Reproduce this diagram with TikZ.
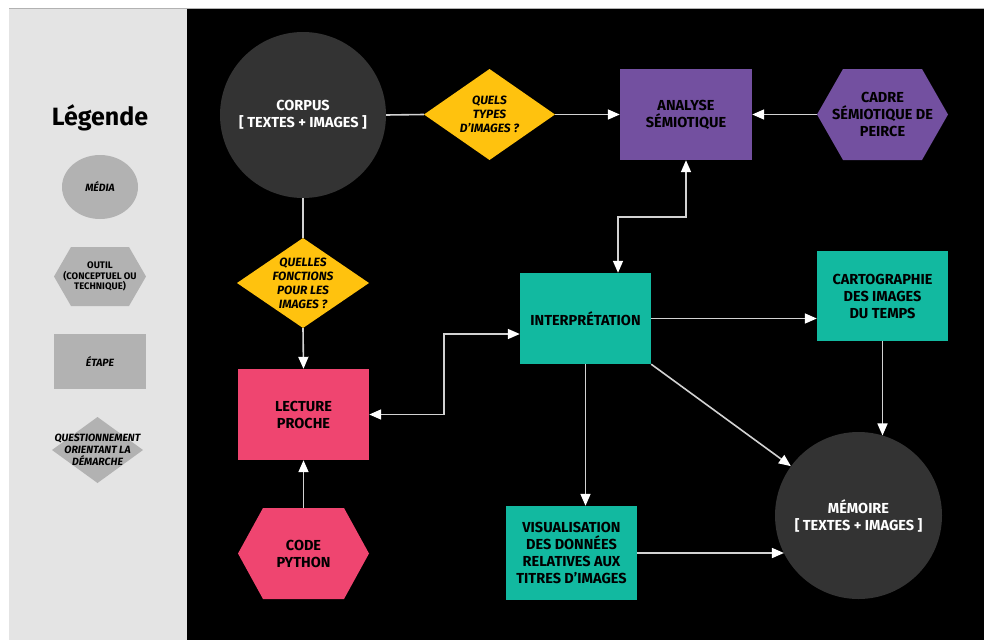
\documentclass[tikz,border=0pt]{standalone}
\usepackage{fontspec}
\setmainfont{Fira Sans}
\usetikzlibrary{arrows.meta,shapes.geometric}

\definecolor{panelgrey}{HTML}{E4E4E4}
\definecolor{keygrey}{HTML}{B2B2B2}
\definecolor{diskgrey}{HTML}{333333}
\definecolor{askyellow}{HTML}{FFC20E}
\definecolor{semviolet}{HTML}{7350A0}
\definecolor{steppink}{HTML}{EF4570}
\definecolor{stepteal}{HTML}{12B9A0}
\definecolor{wiregrey}{HTML}{D2D2D2}

\tikzset{
  x=1pt, y=-1pt,
  every node/.style={inner sep=0pt, align=center},
  bodytext/.style={font=\bfseries\fontsize{14.5}{17}\selectfont},
  asktext/.style={font=\bfseries\itshape\fontsize{12}{14}\selectfont},
  keytext/.style={font=\bfseries\fontsize{9.5}{10.5}\selectfont},
  keyask/.style={font=\bfseries\itshape\fontsize{10.5}{12}\selectfont},
  disk/.style={circle, fill=diskgrey, minimum size=#1, text=white, bodytext},
  stepbox/.style n args={3}{rectangle, fill=#1, minimum width=#2, minimum height=#3},
  hexbox/.style n args={4}{rectangle, minimum width=#2, minimum height=#3,
    path picture={\fill[#1] (path picture bounding box.west)
      -- ([xshift=#4]path picture bounding box.north west)
      -- ([xshift=-#4]path picture bounding box.north east)
      -- (path picture bounding box.east)
      -- ([xshift=-#4]path picture bounding box.south east)
      -- ([xshift=#4]path picture bounding box.south west) -- cycle;}},
  askbox/.style n args={3}{rectangle, minimum width=#2, minimum height=#3,
    path picture={\fill[#1] (path picture bounding box.west)
      -- (path picture bounding box.north)
      -- (path picture bounding box.east)
      -- (path picture bounding box.south) -- cycle;}},
  wire/.style={draw=wiregrey, line width=1.6pt},
  tip/.tip={Triangle[length=12pt, width=10pt, color=white]},
  flow/.style={wire, -tip},
  twoway/.style={wire, tip-tip},
}

\begin{document}
\begin{tikzpicture}
\useasboundingbox (0,0) rectangle (984,640);
% backgrounds
\fill[white] (0,0) rectangle (984,640);
\fill[panelgrey] (9,8) rectangle (187,640);
\fill[black] (187,8) rectangle (984,640);
\draw[gray!60, line width=0.8pt] (9,8) -- (984,8);

% legend
\node[font=\bfseries\fontsize{25}{28}\selectfont] (legtitle) at (100,118) {Légende};
\node[ellipse, fill=keygrey, minimum width=76pt, minimum height=64pt, keyask] (legmedia) at (100,187) {MÉDIA};
\node[hexbox={keygrey}{92pt}{59pt}{17pt}, keytext] (legtool) at (100,276.5) {OUTIL\\(CONCEPTUEL OU\\TECHNIQUE)};
\node[stepbox={keygrey}{92pt}{55pt}, keyask] (legstep) at (100,361.5) {ÉTAPE};
\node[askbox={keygrey}{91pt}{66pt}, keyask] (legask) at (97.5,450) {QUESTIONNEMENT\\ORIENTANT LA\\DÉMARCHE};

% main diagram
\node[disk=166pt] (corpus) at (303,115) {CORPUS\\{[} TEXTES + IMAGES {]}};
\node[askbox={askyellow}{131pt}{91pt}, asktext] (q1) at (489.5,114.5) {QUELS\\TYPES\\D'IMAGES ?};
\node[stepbox={semviolet}{132pt}{91pt}, bodytext] (analyse) at (686,114.5) {ANALYSE\\SÉMIOTIQUE};
\node[hexbox={semviolet}{131pt}{91pt}{26pt}, bodytext] (cadre) at (882.5,114.5) {CADRE\\SÉMIOTIQUE DE\\PEIRCE};
\node[askbox={askyellow}{132pt}{90pt}, asktext] (q2) at (303,283) {QUELLES\\FONCTIONS\\POUR LES\\IMAGES ?};
\node[stepbox={stepteal}{131pt}{91pt}, bodytext] (interp) at (585.5,318.5) {INTERPRÉTATION};
\node[stepbox={stepteal}{131pt}{90pt}, bodytext] (carto) at (882.5,296) {CARTOGRAPHIE\\DES IMAGES\\DU TEMPS};
\node[stepbox={steppink}{131pt}{91pt}, bodytext] (lecture) at (303.5,414.5) {LECTURE\\PROCHE};
\node[hexbox={steppink}{131pt}{91pt}{25pt}, bodytext] (code) at (303.5,553.5) {CODE\\PYTHON};
\node[stepbox={stepteal}{131pt}{94pt}, bodytext] (visu) at (571.5,553) {VISUALISATION\\DES DONNÉES\\RELATIVES AUX\\TITRES D'IMAGES};
\node[disk=167pt] (memoire) at (858.5,515.5) {MÉMOIRE\\{[} TEXTES + IMAGES {]}};

% connectors
\draw[wire] (corpus.east) -- (q1.west);
\draw[flow] (q1.east) -- (analyse.west);
\draw[flow] (cadre.west) -- (analyse.east);
\draw[wire] (corpus.south) -- (q2.north);
\draw[flow] (q2.south) -- (lecture.north);
\draw[flow] (code.north) -- (lecture.south);
\draw[twoway] ([xshift=32.5pt]interp.north) -- ++(0,-56) -| (analyse.south);
\draw[twoway] (lecture.east) -- ++(75,0) |- ([yshift=-15.5pt]interp.west);
\draw[flow] (interp.east) -- (interp.east -| carto.west);
\draw[flow] (interp.south) -- (interp.south |- visu.north);
\draw[flow] (interp.south east) -- (memoire);
\draw[flow] (carto.south) -- (carto.south |- memoire.73);
\draw[flow] (visu.east) -- (visu.east -| memoire.207);
\end{tikzpicture}
\end{document}
